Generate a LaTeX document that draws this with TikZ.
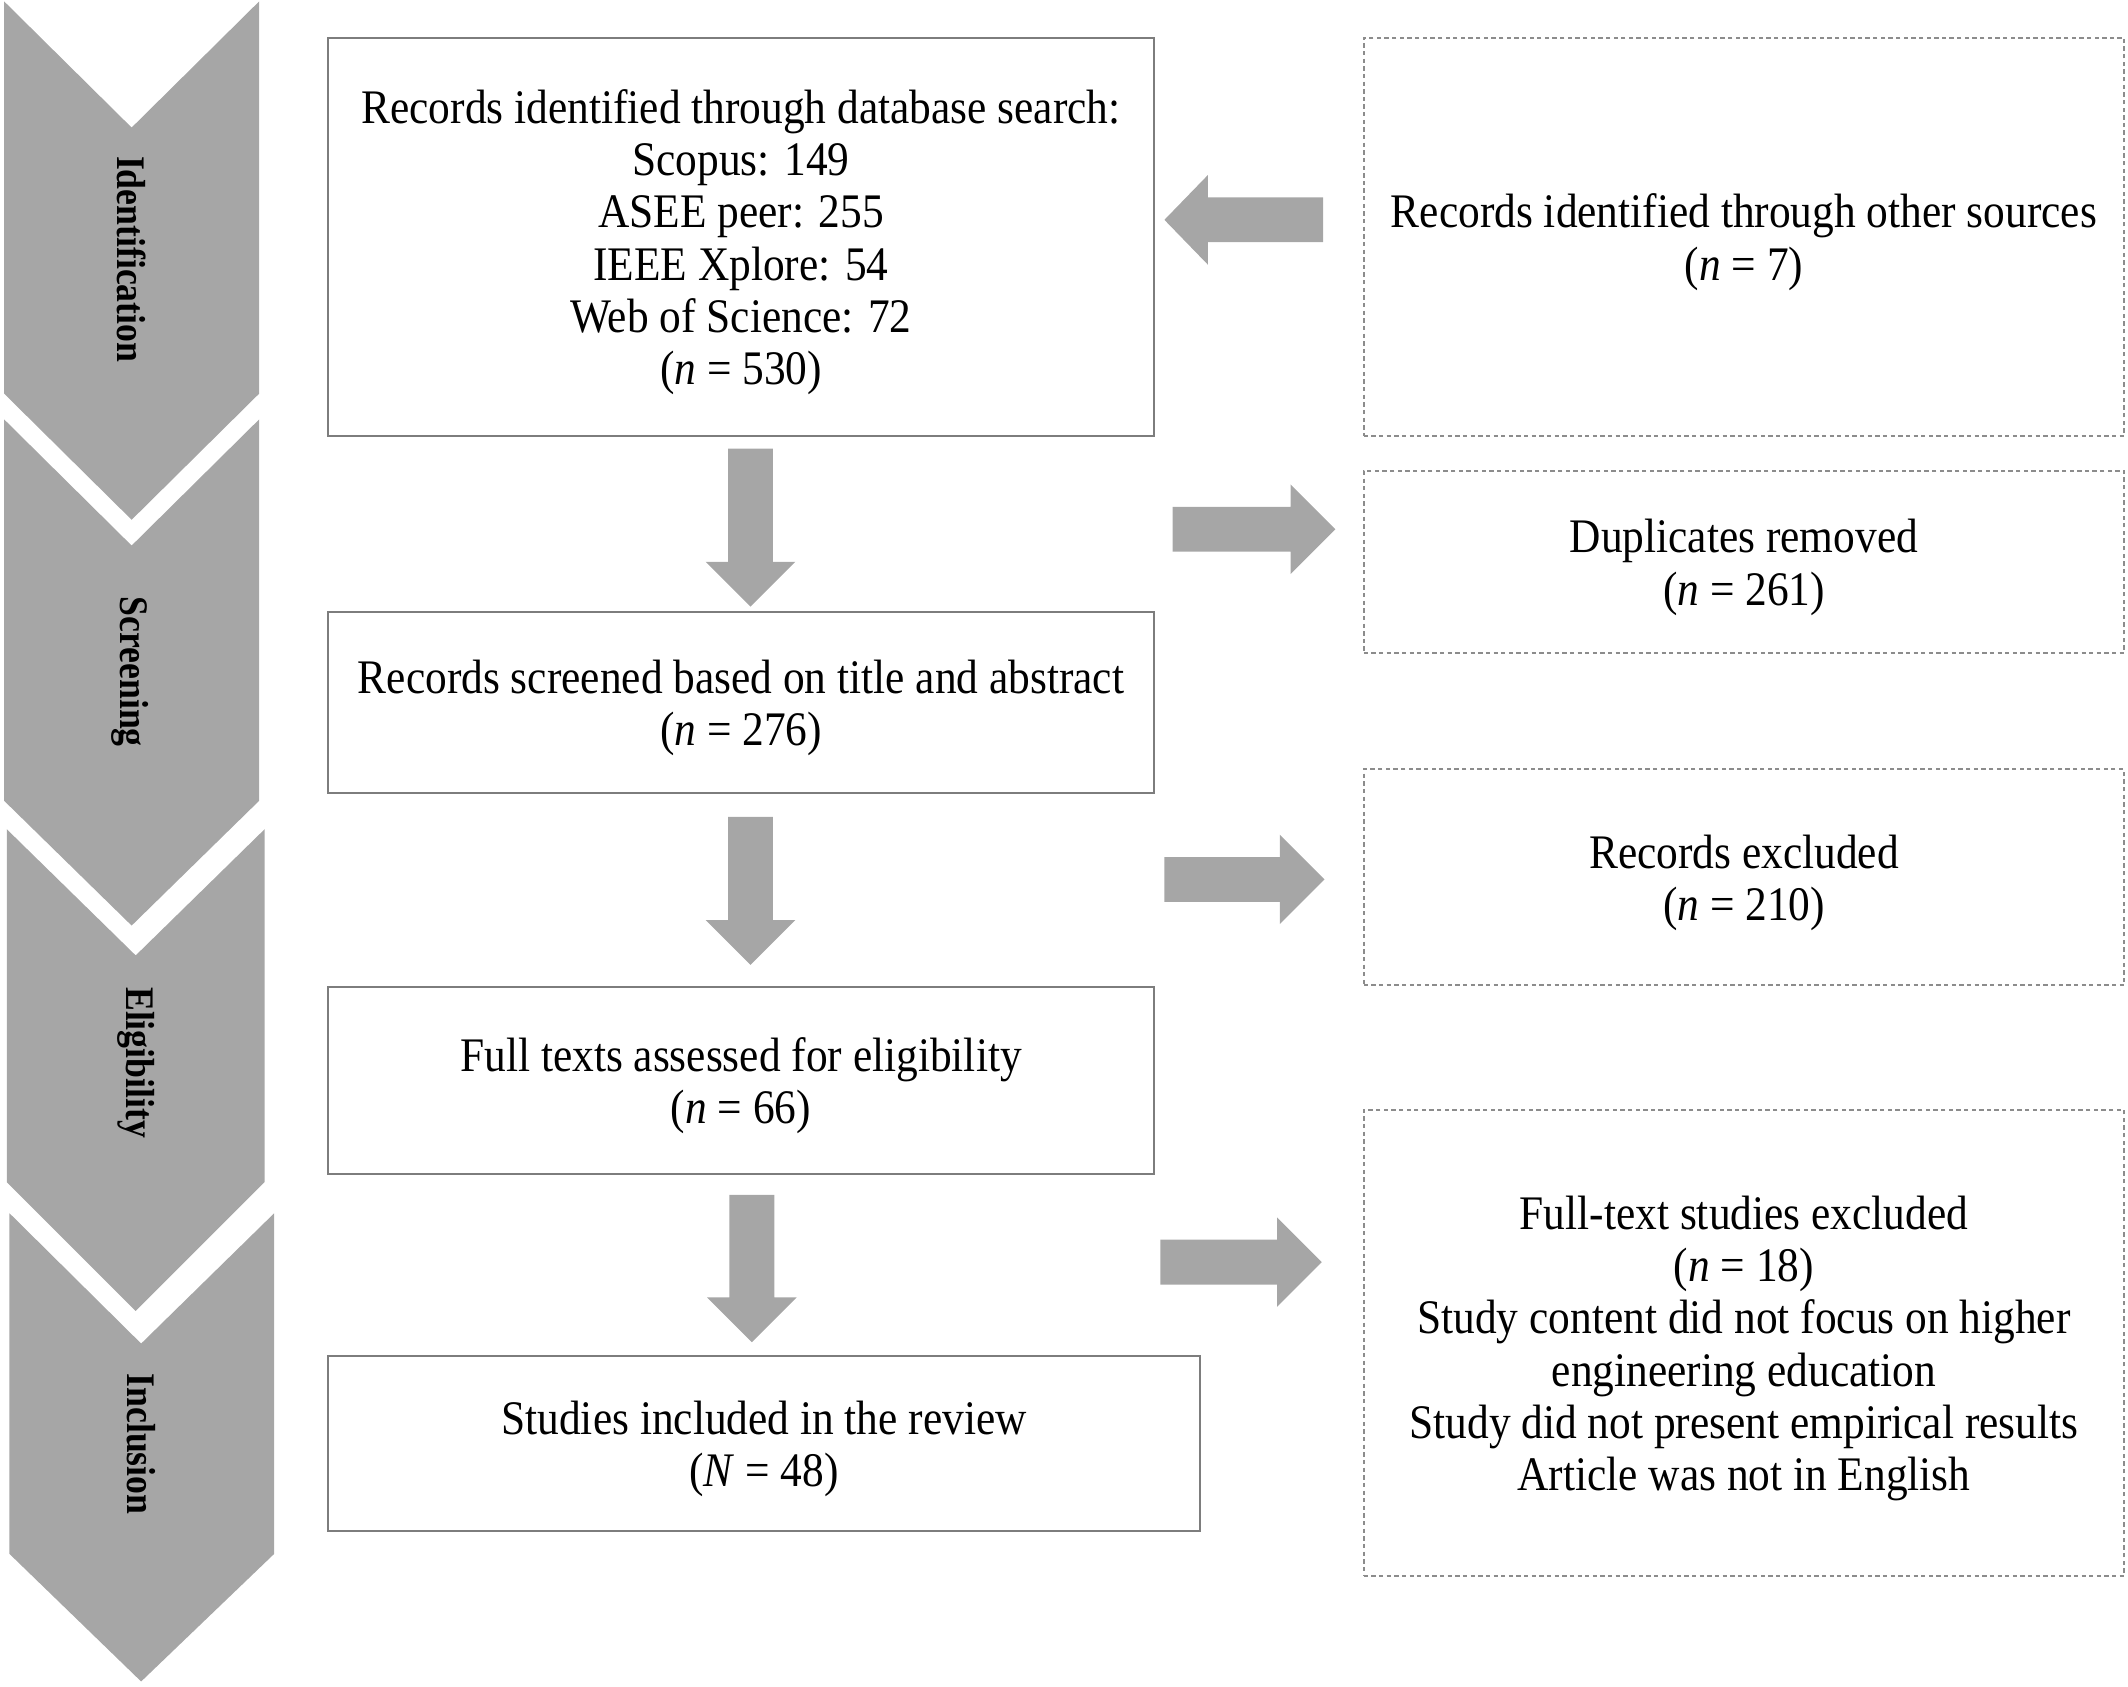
\documentclass[tikz,border=0pt]{standalone}
\usepackage{fontspec}
\setmainfont{Liberation Serif}[FakeStretch=0.9]
\newfontfamily\stagefont{Liberation Serif}[FakeStretch=0.88]
\usetikzlibrary{calc}
\definecolor{blkgray}{RGB}{166,166,166}
\definecolor{solidedge}{RGB}{125,125,125}
\definecolor{dashedge}{RGB}{140,140,140}
\newcommand{\maintext}{\fontsize{10.1}{10.96}\selectfont}
\newcommand{\stagetext}{\stagefont\fontsize{8.5}{10}\selectfont\bfseries}
\newcommand{\tstrut}{\rule{0pt}{9.3pt}}
\tikzset{
  mainbox/.style={draw=solidedge, line width=0.45pt, inner sep=0pt, align=center, font=\maintext},
  sidebox/.style={draw=dashedge, line width=0.4pt, dash pattern=on 0.9pt off 0.7pt, inner sep=0pt, align=center, font=\maintext},
  stagenode/.style={rotate=-90, inner sep=0pt, font=\stagetext},
  blk/.style={fill=blkgray},
  chev/.style={fill=blkgray}
}
% horizontal block arrow: tail, tip, head offset (negative = pointing right)
\newcommand{\harrowblk}[3]{\fill[blk] ($(#1)+(0,-16.5)$) -- ($(#2)+(#3,-16.5)$) -- ($(#2)+(#3,-33)$) -- (#2) -- ($(#2)+(#3,33)$) -- ($(#2)+(#3,16.5)$) -- ($(#1)+(0,16.5)$) -- cycle;}
% downward block arrow: tail, tip
\newcommand{\varrowblk}[2]{\fill[blk] ($(#1)+(-16.5,0)$) -- ($(#2)+(-16.5,-33)$) -- ($(#2)+(-33,-33)$) -- (#2) -- ($(#2)+(33,-33)$) -- ($(#2)+(16.5,-33)$) -- ($(#1)+(16.5,0)$) -- cycle;}
\begin{document}
\begin{tikzpicture}[x=0.01cm,y=-0.01cm]
\useasboundingbox (0,0) rectangle (1568,1243);

% stage chevrons
\fill[chev] (3,1) -- (97,94) -- (191,1) -- (191,290) -- (97,383) -- (3,290) -- cycle;
\fill[chev] (3,309) -- (97,402) -- (191,309) -- (191,590) -- (97,682) -- (3,590) -- cycle;
\fill[chev] (5,611) -- (100,704) -- (195,611) -- (195,871) -- (100,966) -- (5,871) -- cycle;
\fill[chev] (7,894) -- (104,990) -- (202,894) -- (202,1145) -- (104,1239) -- (7,1145) -- cycle;

\node[stagenode] (sid) at (97,191) {Identification};
\node[stagenode] (ssc) at (96,495) {Screening};
\node[stagenode] (sel) at (100,783) {Eligibility};
\node[stagenode] (sin) at (104,1064) {Inclusion};

% main column
\node[mainbox, minimum width=6.08cm, minimum height=2.93cm] (b1) at (546,174.5)
  {\tstrut Records identified through database search:\\Scopus: 149\\ASEE peer: 255\\IEEE Xplore: 54\\Web of Science: 72\\(\textit{n} = 530)};
\node[mainbox, minimum width=6.08cm, minimum height=1.33cm] (b2) at (546,517.5)
  {\tstrut Records screened based on title and abstract\\(\textit{n} = 276)};
\node[mainbox, minimum width=6.08cm, minimum height=1.38cm] (b3) at (546,796)
  {\tstrut Full texts assessed for eligibility\\(\textit{n} = 66)};
\node[mainbox, minimum width=6.42cm, minimum height=1.29cm] (b4) at (563,1063.5)
  {\tstrut Studies included in the review\\(\textit{N} = 48)};

% side column
\node[sidebox, minimum width=5.60cm, minimum height=2.93cm] (r1) at (1285,174.5)
  {\tstrut Records identified through other sources\\(\textit{n} = 7)};
\node[sidebox, minimum width=5.60cm, minimum height=1.34cm] (r2) at (1285,414)
  {\tstrut Duplicates removed\\(\textit{n} = 261)};
\node[sidebox, minimum width=5.60cm, minimum height=1.59cm] (r3) at (1285,646.5)
  {\tstrut Records excluded\\(\textit{n} = 210)};
\node[sidebox, minimum width=5.60cm, minimum height=3.43cm] (r4) at (1285,989.5)
  {\tstrut Full-text studies excluded\\(\textit{n} = 18)\\Study content did not focus on higher\\engineering education\\Study did not present empirical results\\Article was not in English};

% arrow end points
\coordinate (a1s) at (975,162);   \coordinate (a1e) at (858,162);
\coordinate (a2s) at (864,390);   \coordinate (a2e) at (984,390);
\coordinate (a3s) at (858,648);   \coordinate (a3e) at (976,648);
\coordinate (a4s) at (855,930);   \coordinate (a4e) at (974,930);
\coordinate (d1s) at (553,330.5); \coordinate (d1e) at (553,447);
\coordinate (d2s) at (553,602);   \coordinate (d2e) at (553,711);
\coordinate (d3s) at (554,880.5); \coordinate (d3e) at (554,989);

% block arrows
\harrowblk{a1s}{a1e}{32}
\harrowblk{a2s}{a2e}{-33}
\harrowblk{a3s}{a3e}{-33}
\harrowblk{a4s}{a4e}{-33}
\varrowblk{d1s}{d1e}
\varrowblk{d2s}{d2e}
\varrowblk{d3s}{d3e}
\end{tikzpicture}
\end{document}
